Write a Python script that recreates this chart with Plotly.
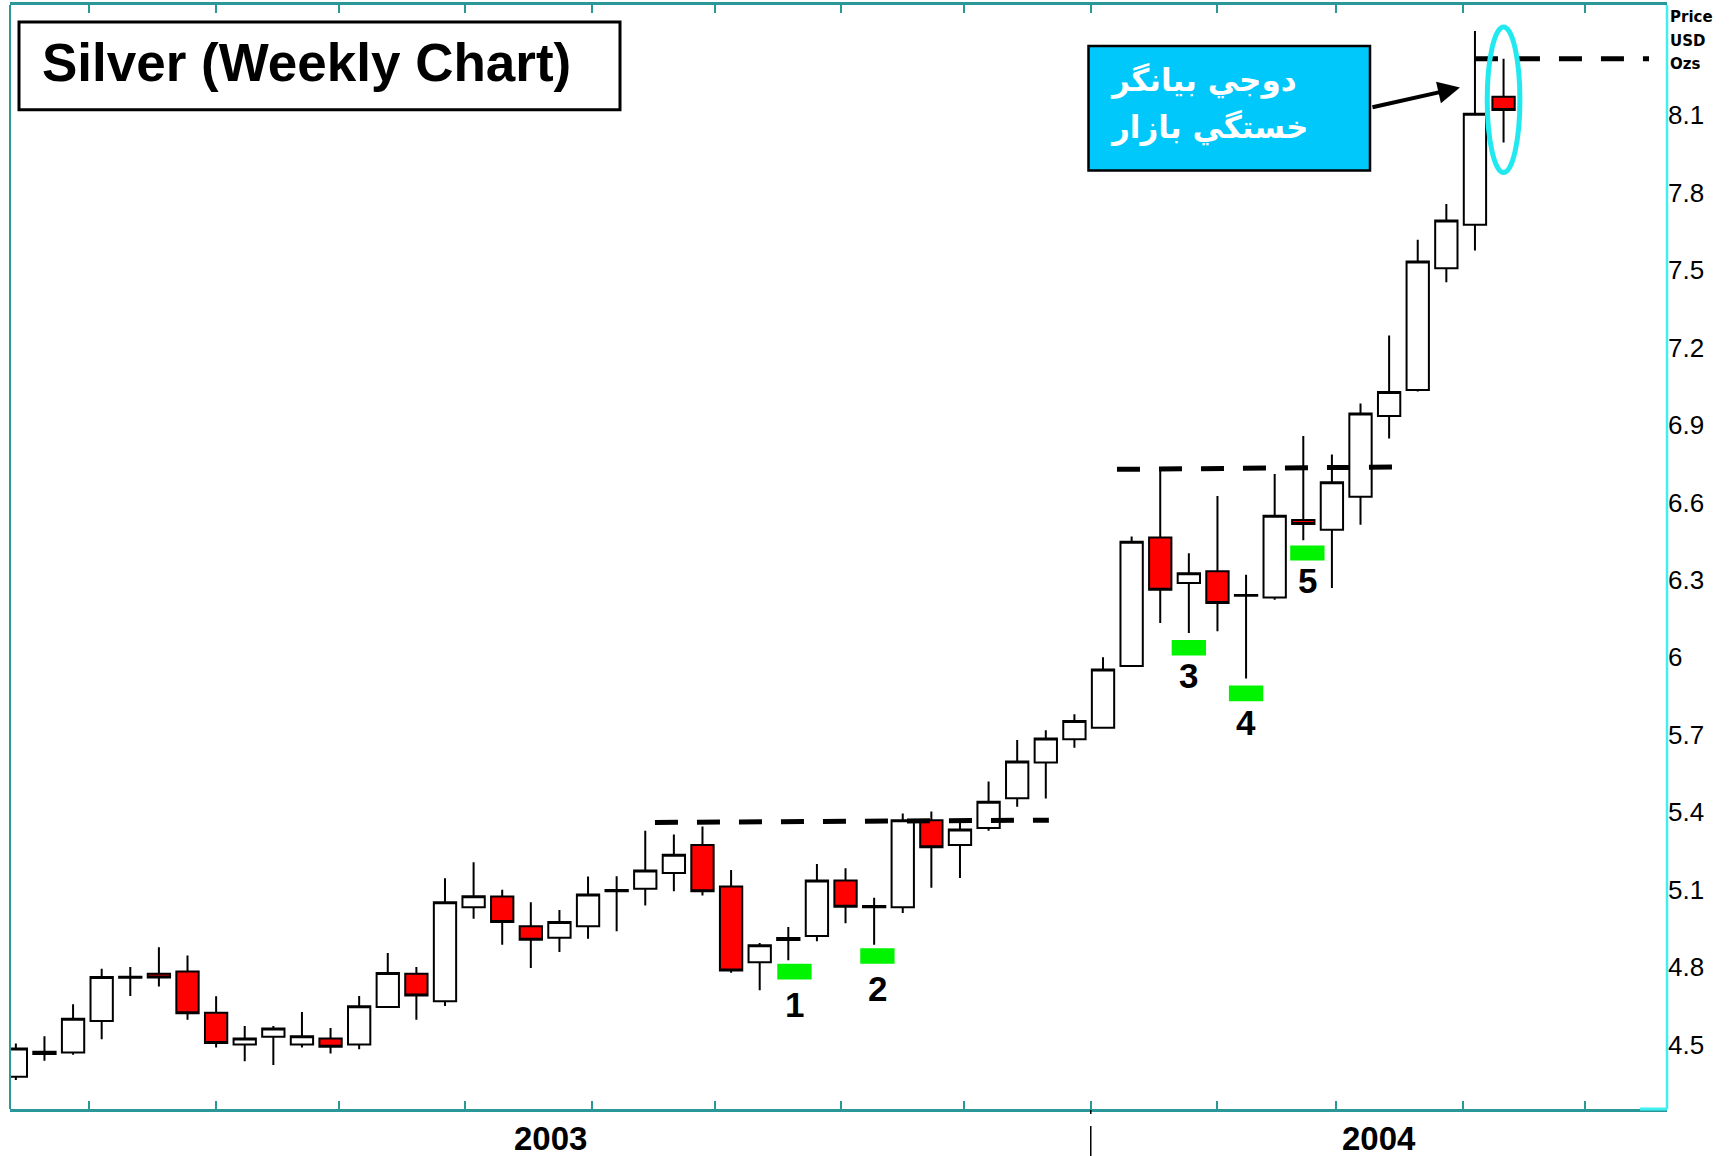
import plotly.graph_objects as go
import pandas as pd

# ---------------- data ----------------
week_dates = pd.date_range("2003-04-13", periods=53, freq="7D")

open_ = [4.375, 4.463, 4.469, 4.591, 4.758, 4.774, 4.783, 4.623, 4.500, 4.530,
         4.500, 4.523, 4.500, 4.645, 4.774, 4.667, 5.032, 5.073, 4.958, 4.913,
         4.958, 5.094, 5.103, 5.164, 5.273, 5.112, 4.819, 4.905, 4.920, 5.135,
         5.032, 5.032, 5.369, 5.273, 5.339, 5.454, 5.592, 5.682, 5.727, 5.966,
         6.464, 6.288, 6.333, 6.238, 6.232, 6.532, 6.494, 6.622, 6.935, 7.035,
         7.507, 7.676, 8.172]
high = [4.504, 4.532, 4.656, 4.793, 4.800, 4.877, 4.845, 4.687, 4.572, 4.572,
        4.626, 4.564, 4.688, 4.854, 4.800, 5.144, 5.206, 5.099, 5.051, 5.021,
        5.151, 5.152, 5.328, 5.313, 5.344, 5.176, 4.893, 4.955, 5.199, 5.183,
        5.068, 5.395, 5.403, 5.362, 5.519, 5.680, 5.717, 5.779, 6.000, 6.468,
        6.725, 6.403, 6.625, 6.320, 6.710, 6.857, 6.786, 6.983, 7.247, 7.618,
        7.756, 8.426, 8.319]
low = [4.362, 4.437, 4.460, 4.520, 4.688, 4.725, 4.596, 4.488, 4.435, 4.420,
       4.488, 4.465, 4.481, 4.645, 4.596, 4.649, 4.987, 4.886, 4.796, 4.858,
       4.910, 4.939, 5.038, 5.094, 5.077, 4.778, 4.710, 4.826, 4.900, 4.970,
       4.886, 5.009, 5.107, 5.145, 5.328, 5.421, 5.453, 5.650, 5.727, 5.966,
       6.133, 6.094, 6.101, 5.918, 6.223, 6.453, 6.268, 6.513, 6.848, 7.030,
       7.453, 7.576, 7.994]
close = [4.484, 4.472, 4.600, 4.761, 4.762, 4.759, 4.621, 4.506, 4.523, 4.562,
         4.532, 4.491, 4.648, 4.777, 4.690, 5.051, 5.074, 4.974, 4.906, 4.974,
         5.081, 5.098, 5.174, 5.235, 5.094, 4.787, 4.884, 4.912, 5.135, 5.034,
         5.036, 5.369, 5.264, 5.333, 5.440, 5.596, 5.685, 5.753, 5.953, 6.448,
         6.262, 6.326, 6.210, 6.241, 6.548, 6.516, 6.678, 6.944, 7.028, 7.533,
         7.692, 8.106, 8.120]

y_tick_vals = [4.5, 4.8, 5.1, 5.4, 5.7, 6.0, 6.3, 6.6, 6.9, 7.2, 7.5, 7.8, 8.1]
y_tick_text = ["4.5", "4.8", "5.1", "5.4", "5.7", "6", "6.3", "6.6", "6.9", "7.2", "7.5", "7.8", "8.1"]
month_ticks = pd.date_range("2003-05-01", "2004-05-01", freq="MS")
year_labels = ["2003", "2004"]

# resistance lines: (start, end, price at start, price at end)
resistance_lines = [
    ("2003-09-16 09:00", "2003-12-21 18:00", 5.360, 5.369),
    ("2004-01-07 10:00", "2004-03-14 17:00", 6.728, 6.737),
    ("2004-04-04 00:00", "2004-05-16 14:00", 8.319, 8.319),
]

# green markers: candle index, day offset, top price, bottom price, label, label price
markers = [
    (27, 1.5, 4.813, 4.752, "1", 4.656),
    (30, 0.8, 4.873, 4.813, "2", 4.718),
    (41, 0.0, 6.067, 6.007, "3", 5.931),
    (43, 0.0, 5.891, 5.830, "4", 5.749),
    (45, 1.0, 6.433, 6.375, "5", 6.298),
]

title_text = "Silver (Weekly Chart)"
note_lines = ["دوجي بيانگر", "خستگي بازار"]
unit_lines = ["Price", "USD", "Ozs"]

x_range = [pd.Timestamp("2003-04-11 13:40"), pd.Timestamp("2004-05-20 23:45")]
y_range = [4.250, 8.527]

TEAL = "#2a9898"
CYAN = "#3ff0f0"

fig = go.Figure()
fig.add_trace(go.Candlestick(
    x=week_dates, open=open_, high=high, low=low, close=close,
    increasing=dict(line=dict(color="black", width=2), fillcolor="white"),
    decreasing=dict(line=dict(color="black", width=2), fillcolor="#ff0000"),
    whiskerwidth=0, showlegend=False, hoverinfo="skip",
))

shapes = []
for x0, x1, y0, y1 in resistance_lines:
    shapes.append(dict(type="line", xref="x", yref="y", x0=x0, x1=x1, y0=y0, y1=y1,
                       line=dict(color="black", width=5, dash="23px,19px")))

half_w = pd.Timedelta(days=4.2)
annotations = []
for idx, off, ytop, ybot, lab, ylab in markers:
    xc = week_dates[idx] + pd.Timedelta(days=off)
    shapes.append(dict(type="rect", xref="x", yref="y", x0=xc - half_w, x1=xc + half_w,
                       y0=ybot, y1=ytop, fillcolor="#00f400", line=dict(width=0)))
    annotations.append(dict(x=xc, y=ylab, xref="x", yref="y", text="<b>%s</b>" % lab,
                            xanchor="center", yanchor="middle",
                            showarrow=False, font=dict(family="Liberation Sans, Arial", size=35, color="black")))

# doji ellipse
last = week_dates[-1]
shapes.append(dict(type="circle", xref="x", yref="y",
                   x0=last - pd.Timedelta(days=4.0), x1=last + pd.Timedelta(days=4.0),
                   y0=7.878, y1=8.442, line=dict(color="#22e8f0", width=5)))

# note box
shapes.append(dict(type="rect", xref="paper", yref="paper",
                   x0=(1088.5 - 10) / 1657, x1=(1370 - 10) / 1657,
                   y0=(1109 - 168) / 1107, y1=(1109 - 43) / 1107,
                   fillcolor="#00c8fa", line=dict(color="black", width=2.5)))
# title box
shapes.append(dict(type="rect", xref="paper", yref="paper",
                   x0=(19 - 10) / 1657, x1=(620 - 10) / 1657,
                   y0=(1109 - 107) / 1107, y1=(1109 - 19) / 1107,
                   fillcolor="white", line=dict(color="black", width=3)))

# borders
shapes.append(dict(type="line", xref="paper", yref="paper", x0=0, x1=0, y0=0, y1=1,
                   line=dict(color=TEAL, width=2)))
shapes.append(dict(type="line", xref="paper", yref="paper", x0=1, x1=1, y0=0, y1=1,
                   line=dict(color=CYAN, width=2.5)))
shapes.append(dict(type="line", xref="paper", yref="paper", x0=(1640 - 10) / 1657, x1=1, y0=0, y1=0,
                   line=dict(color=CYAN, width=3)))
# year separator
shapes.append(dict(type="line", xref="x", yref="paper", x0="2004-01-01", x1="2004-01-01",
                   y0=-(1126 - 1109) / 1107, y1=-(1158 - 1109) / 1107,
                   line=dict(color="black", width=1.5)))
shapes.append(dict(type="line", xref="x", yref="paper", x0="2004-01-01", x1="2004-01-01",
                   y0=-(1110 - 1109) / 1107, y1=-(1114 - 1109) / 1107,
                   line=dict(color="black", width=1.5)))

# title
annotations.append(dict(xref="paper", yref="paper", x=(306 - 10) / 1657, y=(1109 - 60) / 1107,
                        xanchor="center", yanchor="middle",
                        text="<b>%s</b>" % title_text, showarrow=False,
                        font=dict(family="Liberation Sans, Arial", size=53, color="black")))
# note text
for t, yy in zip(note_lines, [78, 125]):
    annotations.append(dict(xref="paper", yref="paper", x=(1108 - 10) / 1657, y=(1109 - yy) / 1107,
                            xanchor="left", yanchor="middle", text="<b>%s</b>" % t, showarrow=False,
                            font=dict(family="DejaVu Sans", size=31, color="white")))
# arrow
annotations.append(dict(x="2004-03-31 08:00", y=8.207, xref="x", yref="y", text="",
                        showarrow=True, arrowhead=2, arrowsize=1.1, arrowwidth=4, arrowcolor="black",
                        ax=-89, ay=20, standoff=0))
# units
for t, yy in zip(unit_lines, [14.5, 37.6, 60.8]):
    annotations.append(dict(xref="paper", yref="paper", x=1, xshift=1, y=(1109 - yy) / 1107,
                            xanchor="left", yanchor="middle", text="<b>%s</b>" % t, showarrow=False,
                            font=dict(family="DejaVu Sans", size=15, color="black")))
# year labels
year_bounds = [(x_range[0], pd.Timestamp("2004-01-01")), (pd.Timestamp("2004-01-01"), x_range[1])]
for lab, (a, b) in zip(year_labels, year_bounds):
    annotations.append(dict(xref="x", yref="paper", x=a + (b - a) / 2, y=-(1139 - 1109) / 1107,
                            xanchor="center", yanchor="middle", text="<b>%s</b>" % lab, showarrow=False,
                            font=dict(family="Liberation Sans Narrow, Liberation Sans, Arial", size=33, color="black")))

fig.update_layout(
    width=1731, height=1156,
    margin=dict(l=10, r=64, t=2, b=47),
    paper_bgcolor="white", plot_bgcolor="white",
    boxgap=0.22, boxgroupgap=0,
    shapes=shapes, annotations=annotations,
    showlegend=False,
)
fig.update_xaxes(
    type="date", range=x_range, rangeslider=dict(visible=False),
    tickmode="array", tickvals=list(month_ticks), ticktext=[""] * len(month_ticks),
    ticks="inside", ticklen=8, tickwidth=1.5, tickcolor=TEAL,
    showline=True, linecolor=TEAL, linewidth=3, mirror="ticks",
    showgrid=False, zeroline=False,
)
fig.update_yaxes(
    range=y_range, side="right", tickmode="array", tickvals=y_tick_vals, ticktext=y_tick_text,
    ticks="", showline=False, showgrid=False, zeroline=False,
    tickfont=dict(family="Liberation Sans, Arial", size=26, color="black"),
)

fig.write_html("out.html", config={"displayModeBar": False},
               post_script="document.body.style.margin='0';document.body.style.overflow='hidden';")
